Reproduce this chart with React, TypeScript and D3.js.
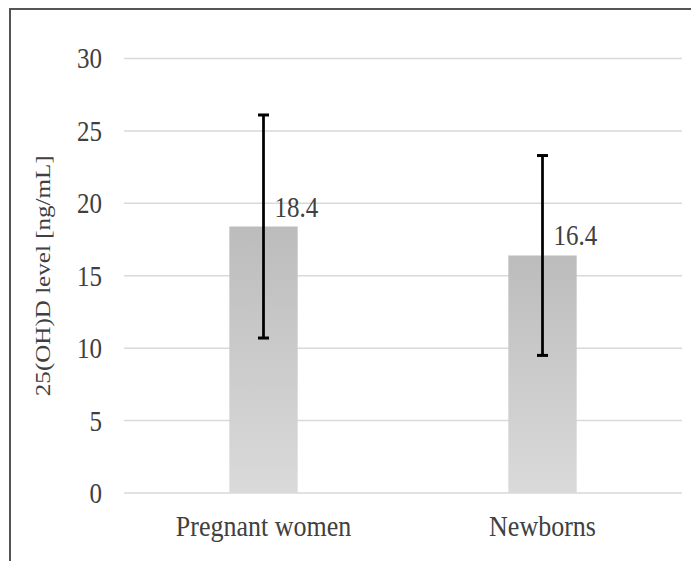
import React from "react";
import * as d3 from "d3";

const categories = ["Pregnant women", "Newborns"];
const means = [18.4, 16.4];
const sds = [7.7, 6.9];
const yTicks = [0, 5, 10, 15, 20, 25, 30];
const yTitle = "25(OH)D level [ng/mL]";

export default function App() {
  const W = 691;
  const H = 561;
  const left = 124;
  const right = 682;
  const top = 58.5;
  const bottom = 493;
  const x = d3.scaleBand<string>().domain(categories).range([left, right]).paddingInner(0.755).paddingOuter(0.3775);
  const y = d3.scaleLinear().domain([0, 30]).range([bottom, top]);
  const font = "'Liberation Serif', 'Times New Roman', serif";
  const textColor = "#404040";
  const sy = 1.14;
  return (
    <svg width={W} height={H} style={{ position: "absolute", left: 0, top: 0, background: "#fff" }}>
      <defs>
        <linearGradient id="barGrad" x1="0" y1="0" x2="0" y2="1">
          <stop offset="0%" stopColor="#bcbcbc" />
          <stop offset="100%" stopColor="#dadada" />
        </linearGradient>
      </defs>
      <rect x={10} y={9} width={800} height={700} fill="none" stroke="#555" strokeWidth={2} />
      {yTicks.map((t) => (
        <g key={t}>
          <line x1={left} x2={right} y1={y(t)} y2={y(t)} stroke="#d9d9d9" strokeWidth={1.5} />
          <g transform={`translate(102, ${y(t)}) scale(1, ${sy})`}>
            <text x={0} y={0} dy="0.35em" textAnchor="end" fontFamily={font} fontSize={25} fill={textColor}>
              {t}
            </text>
          </g>
        </g>
      ))}
      {categories.map((c, i) => {
        const bx = x(c)!;
        const bw = x.bandwidth();
        const cx = bx + bw / 2;
        return (
          <g key={c}>
            <rect x={bx} y={y(means[i])} width={bw} height={bottom - y(means[i])} fill="url(#barGrad)" />
            <line x1={cx} x2={cx} y1={y(means[i] + sds[i])} y2={y(means[i] - sds[i])} stroke="#000" strokeWidth={2.75} />
            <line x1={cx - 5.5} x2={cx + 5.5} y1={y(means[i] + sds[i])} y2={y(means[i] + sds[i])} stroke="#000" strokeWidth={3} />
            <line x1={cx - 5.5} x2={cx + 5.5} y1={y(means[i] - sds[i])} y2={y(means[i] - sds[i])} stroke="#000" strokeWidth={3} />
            <g transform={`translate(${cx + 11}, ${y(means[i]) - 10}) scale(1, ${sy})`}>
              <text x={0} y={0} fontFamily={font} fontSize={25} fill={textColor}>
                {means[i].toFixed(1)}
              </text>
            </g>
            <g transform={`translate(${cx}, 536) scale(1, ${sy})`}>
              <text x={0} y={0} textAnchor="middle" fontFamily={font} fontSize={26} fill={textColor}>
                {c}
              </text>
            </g>
          </g>
        );
      })}
      <g transform={`translate(50, ${(top + bottom) / 2}) rotate(-90) scale(${sy}, 1)`}>
        <text x={0} y={0} textAnchor="middle" fontFamily={font} fontSize={22} fill={textColor}>
          {yTitle}
        </text>
      </g>
    </svg>
  );
}
